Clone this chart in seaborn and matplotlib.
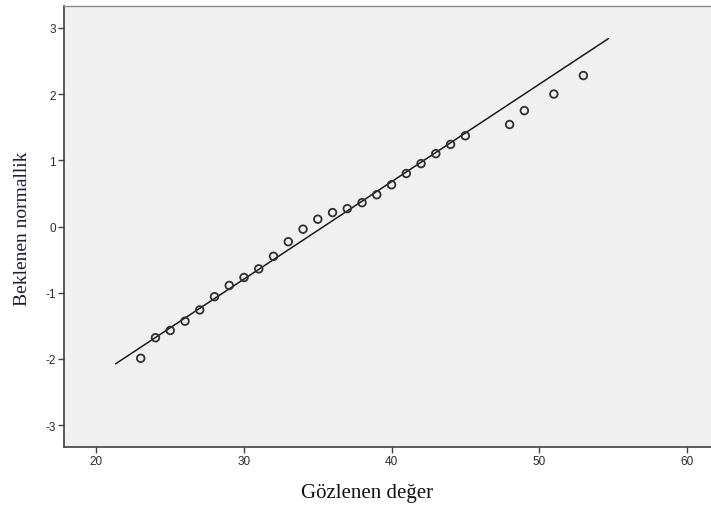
import numpy as np
import pandas as pd
import matplotlib
matplotlib.use("Agg")
import matplotlib.pyplot as plt
import seaborn as sns

# --- data (Normal Q-Q plot) ---
observed = [23, 24, 25, 26, 27, 28, 29, 30, 31, 32, 33, 34, 35, 36, 37,
            38, 39, 40, 41, 42, 43, 44, 45, 48, 49, 51, 53]
expected = [-1.99, -1.68, -1.57, -1.43, -1.26, -1.06, -0.89, -0.77, -0.64,
            -0.45, -0.23, -0.04, 0.11, 0.21, 0.27, 0.36, 0.48, 0.63, 0.80,
            0.95, 1.10, 1.24, 1.37, 1.54, 1.75, 2.00, 2.28]

# reference line: y = (x - mean) / sd
line_mean = 35.4
line_sd = 6.8
line_x = [21.3, 54.7]

x_ticks = [20, 30, 40, 50, 60]
y_ticks = [-3, -2, -1, 0, 1, 2, 3]

pts = pd.DataFrame({"obs": observed, "exp": expected})
ref = pd.DataFrame({"x": line_x})
ref["y"] = (ref["x"] - line_mean) / line_sd

sns.set_style("white", {"axes.facecolor": "#f0f0f0"})
plt.rcParams["font.family"] = ["Liberation Sans", "DejaVu Sans"]
plt.rcParams["axes.unicode_minus"] = False

fig = plt.figure(figsize=(7.11, 5.06), dpi=100)
ax = fig.add_axes([64 / 711, 1 - 448 / 506, 647 / 711, 441 / 506])

sns.lineplot(data=ref, x="x", y="y", ax=ax, color="#1a1a1a", linewidth=1.1)
sns.scatterplot(data=pts, x="obs", y="exp", ax=ax, marker="o", s=30,
                facecolor="none", edgecolor="#303030", linewidth=1.3, zorder=3)

ax.set_xlim(17.8, 61.65)
ax.set_ylim(-3.33, 3.33)
ax.set_xticks(x_ticks)
ax.set_yticks(y_ticks)
ax.tick_params(axis="both", direction="out", length=4, width=1,
               color="#404040", labelsize=8.5, labelcolor="#2a2a2a", pad=2,
               bottom=True, left=True)

for side in ["left", "bottom"]:
    ax.spines[side].set_color("#404040")
    ax.spines[side].set_linewidth(1.2)
ax.spines["top"].set_color("#8a8a8a")
ax.spines["top"].set_linewidth(1.0)
ax.spines["right"].set_visible(False)

ax.set_xlabel("Gözlenen değer", family=["Liberation Serif"], fontsize=15,
              color="#111111")
ax.set_ylabel("Beklenen normallik", family=["Liberation Serif"], fontsize=14,
              color="#1c1c3c")
ax.xaxis.set_label_coords(0.469, -0.082)
ax.yaxis.set_label_coords(-0.051, 0.497)

fig.savefig("out.png", dpi=100, facecolor="white")
